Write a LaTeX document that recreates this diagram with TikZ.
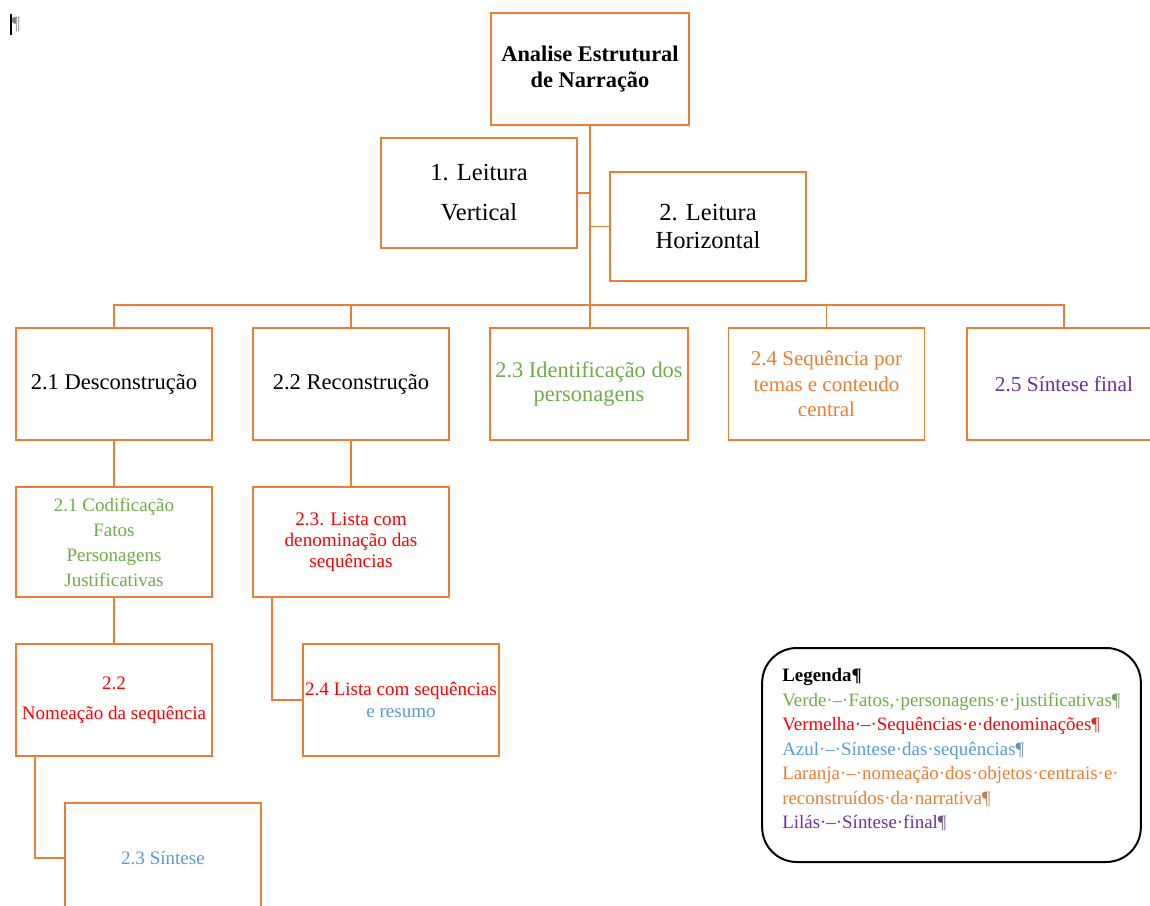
\documentclass[tikz,border=0pt]{standalone}
\usepackage{fontspec}
\setmainfont{Liberation Serif}
\usetikzlibrary{calc}
\definecolor{borange}{HTML}{ED7D31}
\definecolor{vgreen}{HTML}{70AD47}
\definecolor{vred}{HTML}{FF0000}
\definecolor{vblue}{HTML}{5B9BD5}
\definecolor{vpurple}{HTML}{7030A0}
\newcommand{\myfs}[2]{\fontsize{#1}{#2}\selectfont}
\tikzset{
  box/.style={draw=borange, line width=1.1pt, minimum width=147pt, minimum height=84pt, align=center, inner sep=0pt},
  link/.style={draw=borange, line width=1.2pt},
}
\begin{document}
\begin{tikzpicture}[x=0.75pt,y=-0.75pt]
\clip (0,0) rectangle (1150,906);
\fill[white] (0,0) rectangle (1150,906);
% top-left mark
\draw[black, line width=0.9pt] (11,14) -- (11,35);
\node[text=gray, font=\myfs{14pt}{16pt}, inner sep=0pt] (pil) at (16,25) {¶};
% boxes
\node[box, minimum width=148.5pt, font=\myfs{16.8pt}{19.5pt}\bfseries] (root) at (590,69) {Analise Estrutural\\ de Narração};
\node[box, minimum height=82.5pt, font=\myfs{18.4pt}{30pt}] (lv) at (479,193) {1. Leitura\\ Vertical};
\node[box, minimum height=82pt, font=\myfs{18.4pt}{21pt}] (lh) at (708,226.5) {2. Leitura\\ Horizontal};
\node[box, font=\myfs{16.9pt}{19pt}] (d21) at (114,384) {2.1 Desconstrução};
\node[box, font=\myfs{16.9pt}{19pt}] (d22) at (351,384) {2.2 Reconstrução};
\node[box, minimum width=148.5pt, text=vgreen, font=\myfs{16.8pt}{18pt}] (d23) at (589,384) {2.3 Identificação dos\\ personagens};
\node[box, text=borange, font=\myfs{15.75pt}{19pt}] (d24) at (826.5,384) {2.4 Sequência por\\ temas e conteudo\\ central};
\node[box, minimum width=145.5pt, text=vpurple, font=\myfs{16pt}{19pt}] (d25) at (1064,384) {2.5 Síntese final};
\node[box, minimum height=82.5pt, text=vgreen, font=\myfs{14.25pt}{18.75pt}] (c21) at (114,542) {2.1 Codificação\\ Fatos\\ Personagens\\ Justificativas};
\node[box, text=vred, font=\myfs{14.3pt}{22.5pt}] (n22) at (114,700) {2.2\\ Nomeação da sequência};
\node[box, minimum height=82.5pt, text=vblue, font=\myfs{14.3pt}{17pt}] (s23) at (163,858) {2.3 Síntese};
\node[box, minimum height=82.5pt, text=vred, font=\myfs{14.4pt}{15.75pt}] (l23) at (351,542) {2.3. Lista com\\ denominação das\\ sequências};
\node[box, font=\myfs{14.3pt}{16.5pt}] (l24) at (401,700) {\textcolor{vred}{2.4 Lista com sequências}\\ \textcolor{vblue}{e resumo}};
% connectors
\coordinate (bus) at (590,305);
\draw[link] (root.south) -- (root.south |- d23.north);
\draw[link] (lv.east) -- (lv.east -| root.south);
\draw[link] (lh.west) -- (lh.west -| root.south);
\draw[link] (d21.north) |- (bus -| d25.north) -- (d25.north);
\draw[link] (d22.north) -- (d22.north |- bus);
\draw[link] (d24.north) -- (d24.north |- bus);
\draw[link] (d21.south) -- (c21.north);
\draw[link] (c21.south) -- (n22.north);
\draw[link] (d22.south) -- (l23.north);
\draw[link] ([xshift=15pt]n22.south west) |- (s23.west);
\draw[link] ([xshift=15pt]l23.south west) |- (l24.west);
% legend
\node[draw=black, line width=1.5pt, rounded corners=26pt, minimum width=284pt, minimum height=160.5pt] (leg) at (951.5,755) {};
\node[anchor=west, align=left, inner sep=0pt, font=\myfs{14.2pt}{18.4pt}] (legtxt) at (782,750) {%
{\bfseries Legenda¶}\\
\textcolor{vgreen}{Verde·–·Fatos,·personagens·e·justificativas}\textcolor{vgreen!60!gray}{¶}\\
\textcolor{vred}{Vermelha·–·Sequências·e·denominações}\textcolor{vred!60!gray}{¶}\\
\textcolor{vblue}{Azul·–·Síntese·das·sequências}\textcolor{vblue!60!gray}{¶}\\
\textcolor{borange}{Laranja·–·nomeação·dos·objetos·centrais·e·}\\
\textcolor{borange}{reconstruídos·da·narrativa}\textcolor{borange!60!gray}{¶}\\
\textcolor{vpurple}{Lilás·–·Síntese·final}\textcolor{vpurple!60!gray}{¶}};
\end{tikzpicture}
\end{document}
